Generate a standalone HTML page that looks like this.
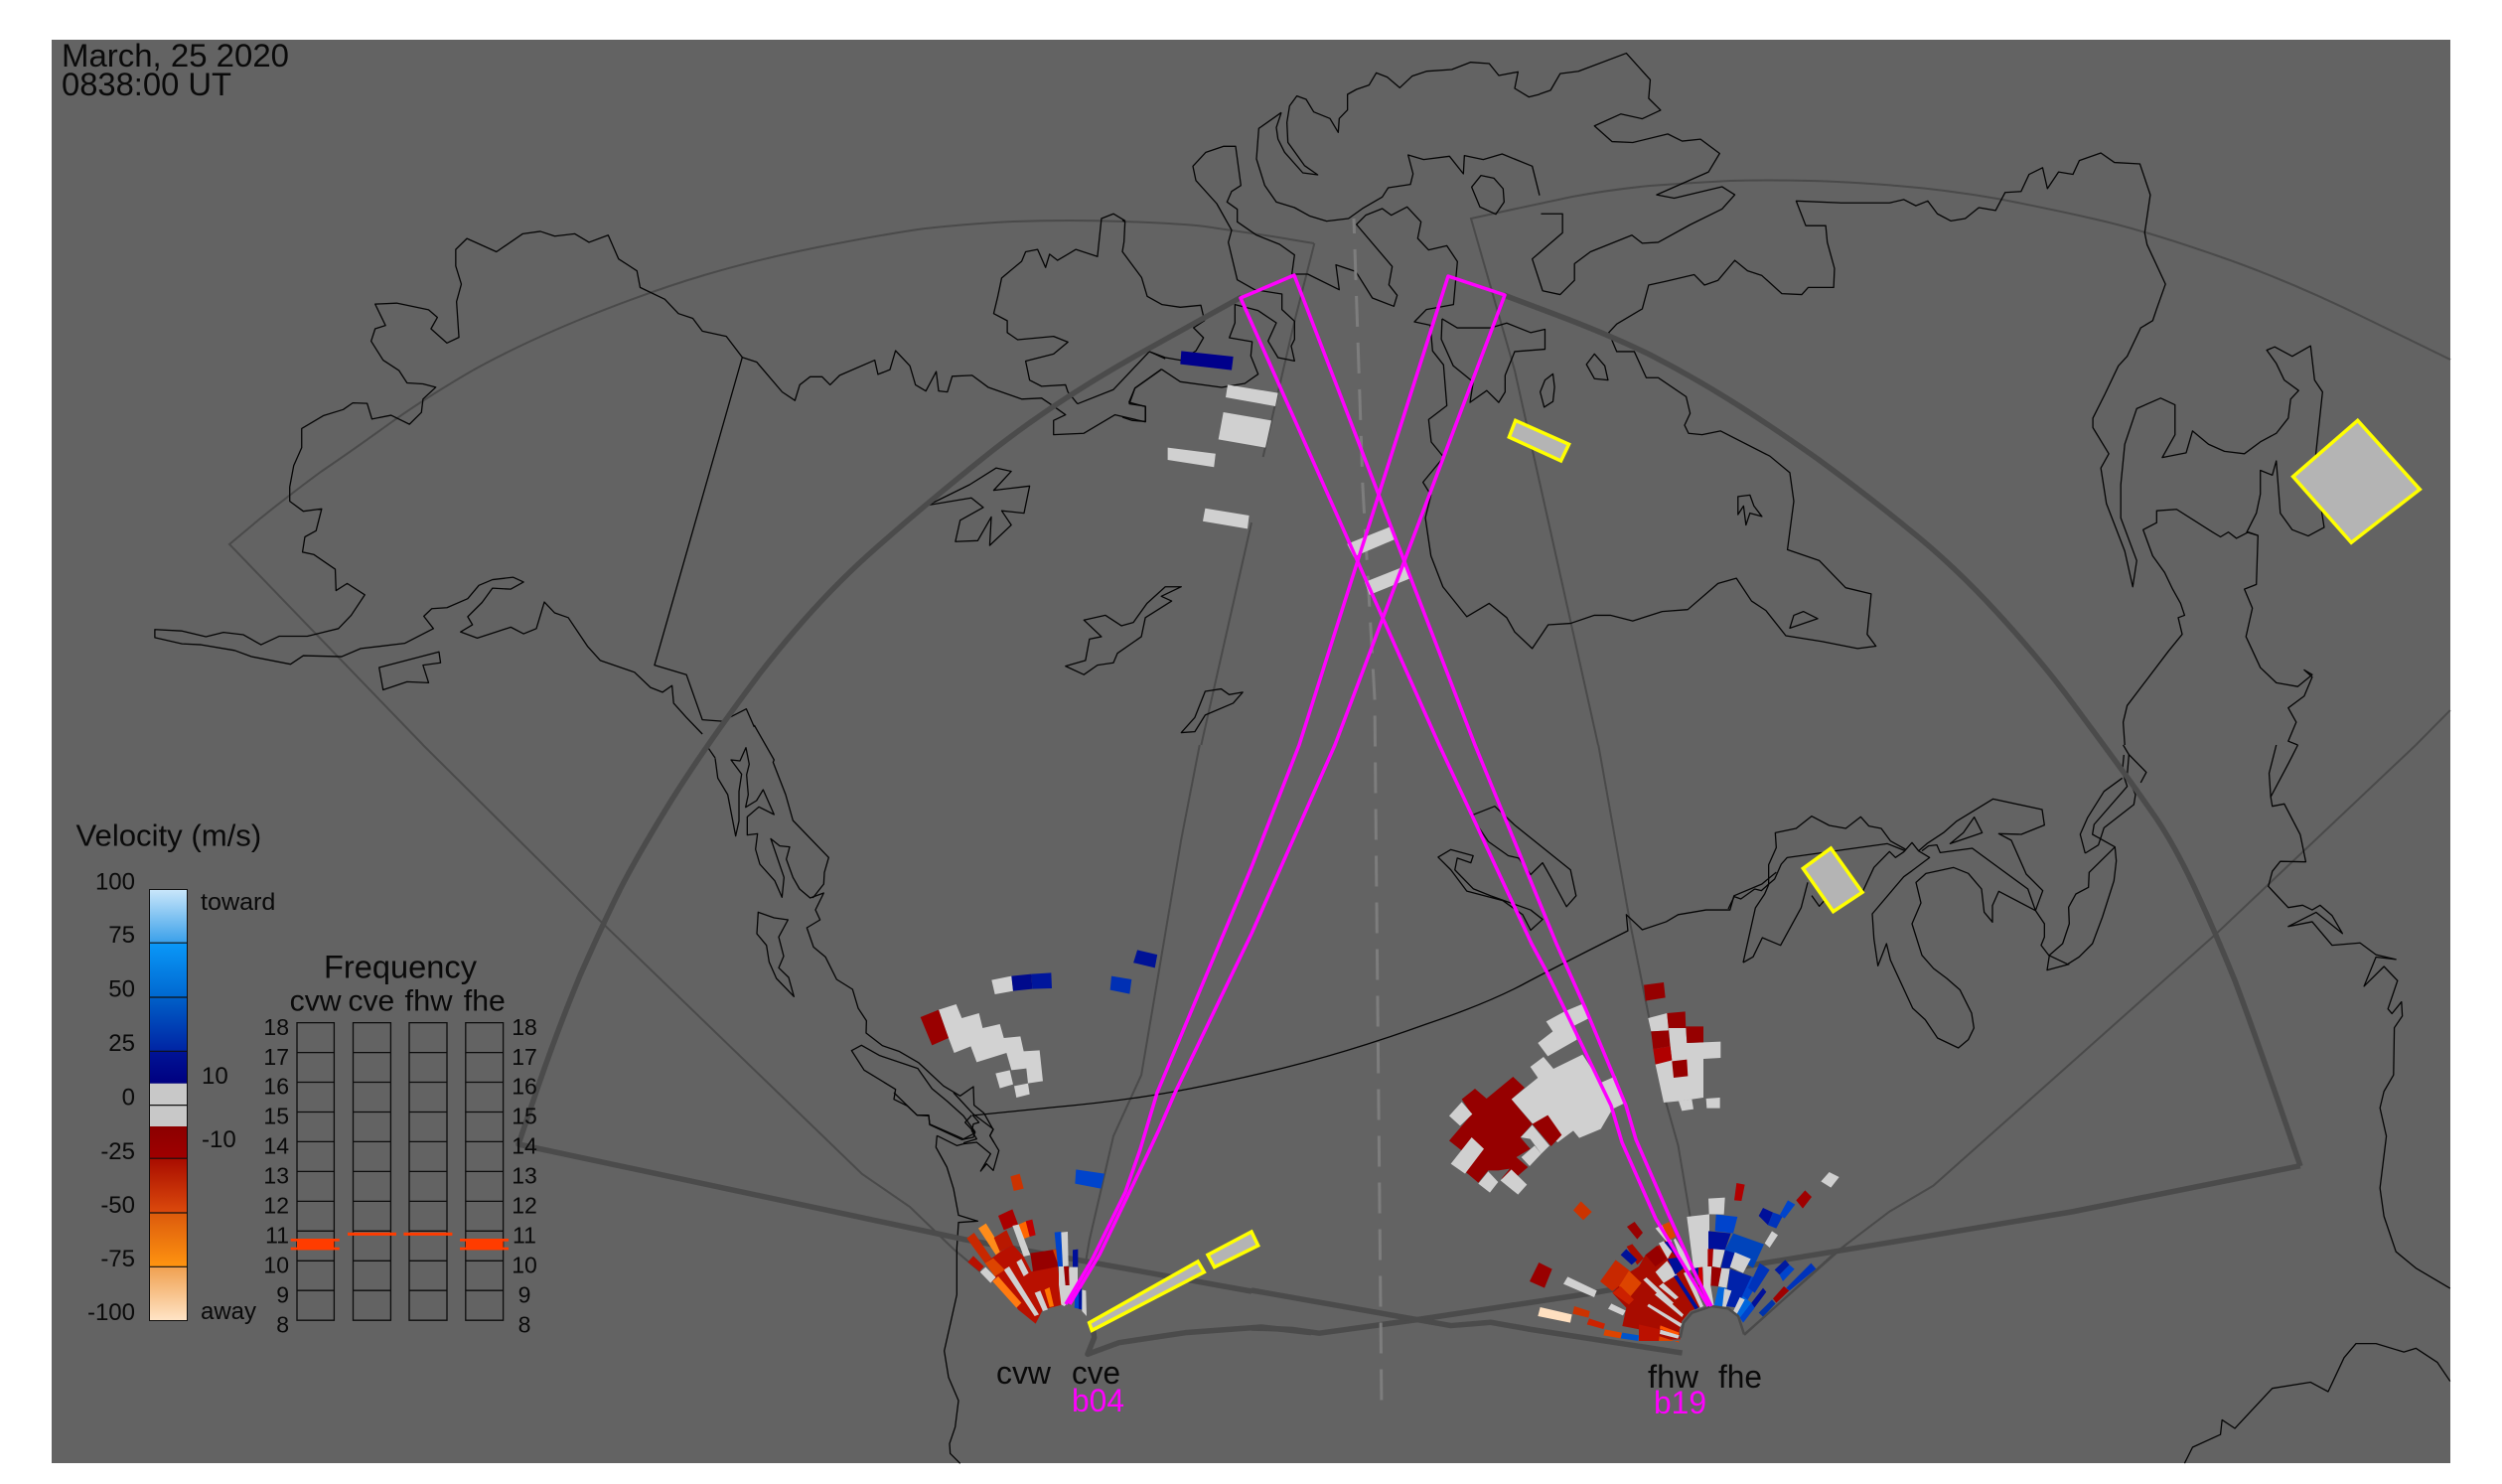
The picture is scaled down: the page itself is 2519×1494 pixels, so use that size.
<!DOCTYPE html>
<html><head><meta charset="utf-8"><style>
html,body{margin:0;padding:0;background:#fff}
svg{display:block}
svg *{vector-effect:non-scaling-stroke}
text{font-family:"Liberation Sans",sans-serif;fill:#0a0a0a}
.c polyline,.c path{fill:none;stroke:#050505;stroke-width:1.3;stroke-linejoin:round}
.c polygon{fill:none;stroke:#050505;stroke-width:1.3;stroke-linejoin:round}
.t polyline,.t path{fill:none;stroke:#4a4a4a;stroke-width:2}
.k polyline,.k path{fill:none;stroke:#4b4b4b;stroke-width:5.5;stroke-linejoin:round}
.y polygon{fill:#b4b4b4;stroke:#ff0;stroke-width:3.5}
.m polyline{fill:none;stroke:#f0f;stroke-width:3.5;stroke-linejoin:round}
</style></head><body>
<svg xmlns="http://www.w3.org/2000/svg" width="2519" height="1494" viewBox="0 0 2519 1494">
<defs>
<linearGradient id="a" x1="0" y1="0" x2="0" y2="1"><stop offset="0" stop-color="#c8e6fa"/><stop offset="1" stop-color="#3aa0ea"/></linearGradient>
<linearGradient id="b" x1="0" y1="0" x2="0" y2="1"><stop offset="0" stop-color="#0a98f8"/><stop offset="1" stop-color="#0068d0"/></linearGradient>
<linearGradient id="d" x1="0" y1="0" x2="0" y2="1"><stop offset="0" stop-color="#0060c8"/><stop offset="1" stop-color="#0024a4"/></linearGradient>
<linearGradient id="e" x1="0" y1="0" x2="0" y2="1"><stop offset="0" stop-color="#001496"/><stop offset="1" stop-color="#000080"/></linearGradient>
<linearGradient id="f" x1="0" y1="0" x2="0" y2="1"><stop offset="0" stop-color="#8b0000"/><stop offset="1" stop-color="#a00000"/></linearGradient>
<linearGradient id="g" x1="0" y1="0" x2="0" y2="1"><stop offset="0" stop-color="#a80c00"/><stop offset="1" stop-color="#dc4a0c"/></linearGradient>
<linearGradient id="h" x1="0" y1="0" x2="0" y2="1"><stop offset="0" stop-color="#dc5a0c"/><stop offset="1" stop-color="#ff9410"/></linearGradient>
<linearGradient id="i" x1="0" y1="0" x2="0" y2="1"><stop offset="0" stop-color="#f0a050"/><stop offset="1" stop-color="#ffe4c6"/></linearGradient>
</defs>
<rect width="2519" height="1494" fill="#fff"/>
<rect x="52" y="40" width="2415" height="1433" fill="#636363"/>

<!-- thin field-of-view lines -->
<g class="t">
<path d="M426 750 L231 548 L262 522 Q293 497 323 475 Q354 454 390 428 Q426 402 474 374 Q522 347 588 320 Q655 293 709 277 Q763 261 823 249 Q884 237 924 231 Q964 226 1020 223 Q1077 221 1132 223 Q1187 225 1213 228 Q1240 232 1281 238 L1323 245"/>
<g transform="scale(.80357,.47832)"><polyline points="1568,1100 1505,1568"/></g>
<g transform="translate(1130,40) scale(.33333)"><polyline points="580,615 520,850 425,1260"/></g>
<g transform="translate(0,750) scale(.80357,.47449)">
<polyline points="530,0 750,370 1080,910 1140,980 1195,1070 1230,1120"/>
<polyline points="1503,0 1480,200 1430,700 1395,830 1365,1050 1360,1100"/>
</g>
<path d="M1609 750 L1525 373 L1481 220 L1513 213 Q1545 206 1583 198 Q1621 191 1661 187 Q1702 184 1742 182 Q1782 181 1822 182 Q1862 183 1910 187 Q1959 191 2011 200 Q2063 210 2111 221 Q2159 232 2231 257 Q2304 282 2385 322 L2467 362"/>
<g transform="translate(1260,0) scale(.80293,.47832)"><polyline points="1503,1495 1460,1568"/></g>
<g transform="translate(1260,750) scale(.80293,.47449)">
<polyline points="435,0 475,380 520,760 535,850 550,1000"/>
<polyline points="1460,0 1210,400 855,935 800,990 730,1080 618,1252"/>
</g>
</g>

<!-- coastlines -->
<g class="c">
<g transform="scale(.80357,.47832)">
<polyline points="880,1545 860,1510 844,1480 842,1443 830,1457 815,1447 795,1415 752,1390 736,1360 712,1300 695,1290 682,1267 672,1323 656,1334 640,1320 598,1343 577,1330 592,1315 586,1298 604,1268 617,1238 640,1240 656,1225 643,1215 617,1220 600,1232 586,1260 560,1279 541,1281 531,1297 543,1323 507,1354 452,1365 428,1382 380,1380 364,1398 315,1382 294,1369 252,1357 228,1355 194,1342 194,1325 228,1328 258,1340 280,1331 305,1336 327,1357 350,1339 385,1339 424,1323 440,1295 457,1252 435,1228 421,1243 420,1198 393,1167 379,1162 382,1130 396,1117 403,1071 380,1076 363,1055 363,1025 368,980 378,942 378,902 405,875 430,862 442,848 460,849 466,882 490,874 513,893 528,868 530,840 546,815 530,808 510,806 500,780 480,758 465,718 470,692 483,685 470,640 497,638 537,652 548,668 540,692 560,722 575,710 572,635 578,598 571,560 571,525 585,502 622,530 655,492 677,487 695,497 720,492 738,510 762,495 775,545 798,570 802,605 833,630 850,660 868,670 880,697 910,708 930,752 948,762 980,825 996,843 1002,810 1015,793 1030,793 1040,810 1052,790 1096,758 1100,788 1115,778 1122,738 1140,770 1147,810 1160,823 1173,782 1176,823 1187,825 1193,792 1218,790 1238,815 1280,840 1305,838 1320,855 1335,873 1320,885 1320,915 1358,912 1397,873 1435,888 1435,855 1415,850 1422,817 1455,778"/>
<polyline points="930,752 820,1400 860,1420 880,1515 905,1518 935,1492 945,1530"/>
<polyline points="1350,850 1338,825 1335,810 1305,813 1290,800 1285,760 1320,745 1338,720 1320,708 1275,715 1262,700 1262,675 1245,660 1250,625 1255,585 1280,550 1285,530 1300,525 1310,563 1315,535 1325,548 1348,525 1375,540 1380,460 1395,450 1410,465"/>
<polyline points="1350,850 1395,820 1440,740 1460,755"/>
<polygon points="1163,1063 1215,1020 1248,985 1267,992 1245,1032 1290,1023 1283,1080 1255,1075 1267,1105 1240,1148 1242,1088 1225,1138 1197,1140 1203,1095 1232,1068 1217,1048"/>
<polygon points="1335,1402 1360,1390 1365,1345 1380,1340 1358,1305 1385,1295 1405,1317 1420,1310 1437,1270 1460,1235 1480,1235 1455,1255 1468,1265 1435,1300 1430,1340 1400,1375 1395,1395 1375,1400 1358,1420"/>
<polygon points="1510,1455 1530,1450 1540,1462 1557,1457 1545,1480 1510,1505 1497,1540 1480,1542 1497,1510"/>
<polygon points="475,1405 550,1372 552,1395 530,1400 537,1437 510,1435 480,1452"/>
</g>
<g transform="translate(1130,40) scale(.33333)">
<polyline points="118,995 175,1033 300,1050 370,1038 410,1010 388,955 392,912 323,900 340,855 340,800 410,818 465,855 440,910 470,960 520,970 510,925 520,905 520,850 482,815 482,768 400,755 347,725 320,612 330,575 285,495 222,425 213,382 252,340 305,322 342,322 358,440 330,458 316,490 347,512 347,550 405,590 475,618 520,650 512,708 560,708 655,755 645,680 705,700 755,780 820,805 830,772 805,740 815,685 707,558 735,530 785,510 812,530 860,505 902,550 892,600 925,635 980,622 1012,670 1000,800 918,815 882,852 930,862 937,940 970,982 980,1105 925,1147 933,1215 970,1260"/>
<polyline points="118,995 38,1052 20,1095 70,1108 70,1153 30,1150 0,1140"/>
<polyline points="82,942 130,960 175,968 222,940 245,900 215,870 248,848 237,802 175,808 120,800 75,775 58,718 0,640 5,610 8,550 0,545"/>
<polyline points="480,220 412,268 405,360 430,440 465,490 520,507 565,532 617,548 683,540 725,510 785,475 803,447 870,437 878,405 863,348 910,362 988,352 1030,405 1033,350 1090,362 1147,345 1238,382 1260,470"/>
<polyline points="480,220 465,265 470,300 490,340 545,402 590,408 550,380 500,310 497,250 505,200 527,170 555,180 578,218 627,238 652,280 655,238 680,212 680,165 707,150 745,137 767,100 800,113 838,145 875,110 920,95 995,90 1052,68 1108,72 1137,108 1195,97 1185,147 1228,173 1260,165"/>
<polygon points="1083,410 1055,445 1080,505 1128,527 1153,490 1150,450 1122,418"/>
</g>
<g transform="translate(720,730) scale(.33333)">
<polyline points="0,100 8,160 38,210 62,335 72,290 72,200 80,148 48,105 75,108 93,68 103,118 95,150 100,210 92,248 125,228 145,195 178,270 132,247 97,277 97,332 128,328 122,375 135,420 180,470 202,520 208,460 168,343 195,365 225,368 215,405 235,460 255,495 287,522 328,507 303,558 317,588 277,612 297,670 333,700 367,768 415,798 432,855 457,893 456,930 505,968 555,985 615,1020 690,1090 740,1120 780,1092 782,1148 812,1172 840,1222 830,1240 842,1260"/>
<polyline points="118,0 178,105 175,112 213,210 235,288 343,400 330,445 328,480 295,522"/>
<polygon points="130,565 178,582 220,588 192,640 207,698 192,733 222,762 238,820 185,765 163,715 155,665 126,630"/>
<polygon points="412,983 442,967 497,998 612,1037 655,1098 700,1135 750,1180 785,1228 780,1245 745,1252 648,1207 645,1178 610,1178 580,1150 540,1130 545,1100 450,1042"/>
<polyline points="778,1178 797,1200 780,1205 775,1225 790,1250 750,1262"/>
</g>
<polyline points="711,750 720,763"/>
<path d="M979 1123 L1058 1115 Q1137 1108 1198 1096 Q1260 1084 1316 1069 Q1372 1054 1436 1031 Q1501 1009 1539 988 Q1577 968 1639 937"/>
<g transform="translate(900,1100) scale(.33333)">
<polyline points="0,0 70,68 105,70 108,95 210,140 245,122 215,90 235,68"/>
<polyline points="180,0 240,65 300,110 290,130 317,175 300,235 280,215 262,237 292,185 250,150 210,155 190,160 130,130"/>
<polyline points="130,130 127,165 160,225 180,290 195,370 253,388 195,392 190,470 190,610 170,700 152,780 165,860 195,930 185,1010 168,1060 170,1090 200,1120"/>
</g>
<g transform="translate(1260,0) scale(.80293,.47832)">
<polyline points="363,450 390,450 390,490 352,545 365,612 387,620 405,590 405,555 425,530 477,495 490,512 510,510 550,473 590,440 606,410 590,393 530,417 508,410 573,362 587,323 563,293 540,297 522,282 478,300 452,298 430,265 463,240 490,250 513,232 498,207 500,168 470,112 410,150 387,155 375,190 361,198"/>
<polyline points="239,671 258,690 300,690 320,680 350,700 368,693 368,735 330,740 318,790 318,825 310,847 295,822 274,847 278,804 253,770 238,714 239,671"/>
<polyline points="241,962 215,1015 225,1042 218,1090 225,1170 240,1235 270,1298 298,1270 320,1300 330,1330 352,1365 372,1315 400,1312 430,1295 450,1295 478,1307 515,1287 547,1283 585,1228 608,1217 627,1265 645,1285 670,1338 715,1350 760,1365 783,1360 772,1335 777,1250 745,1237 712,1180 672,1157 680,1055 675,995 650,960 588,907 565,915 548,912 543,895 550,870 545,835 510,795 495,795 480,740 458,740 448,700 458,682 490,650 498,600 520,592 555,578 568,600 585,590 606,548 622,570 640,580 665,618 690,620 698,605 730,605 731,565 722,510 720,475 695,475 683,423 740,427 800,427 818,420 833,433 848,423 860,450 877,465 895,460 912,437 933,443 945,405 965,403 975,367 992,353 998,397 1012,362 1030,367 1038,338 1065,322 1082,342 1114,345 1127,410 1120,490 1123,515 1146,598 1135,650 1130,675 1115,690 1098,750 1087,770 1070,830 1055,880 1055,900 1075,955 1065,985 1072,1060 1095,1160 1105,1235 1110,1180 1090,1090 1090,1020 1095,935 1110,860 1140,838 1158,852 1158,915 1142,963 1172,953 1180,907 1200,935 1220,950 1245,955 1265,930 1285,912 1300,880 1303,840 1313,822 1295,800 1285,765 1273,737 1283,730 1305,750 1328,728 1333,800 1343,825 1333,980 1345,1110 1325,1128 1305,1115 1290,1080 1285,970 1280,1000 1265,990 1265,1040 1260,1080 1248,1120 1262,1127 1260,1230 1245,1240 1255,1280 1247,1340 1265,1405 1285,1437 1312,1445 1330,1420 1320,1410 1330,1425 1320,1465 1300,1490 1310,1520 1300,1560 1312,1568"/>
<polyline points="1262,1127 1250,1120 1235,1133 1225,1120 1215,1130 1205,1120 1160,1072 1135,1075 1135,1100 1118,1115 1130,1170 1145,1205 1155,1240 1165,1270 1170,1295 1162,1300 1167,1335 1150,1370 1098,1485 1093,1520 1095,1568"/>
<polygon points="420,767 430,745 443,770 447,800 430,797"/>
<polygon points="378,787 380,815 378,845 367,857 362,825 368,800"/>
<polygon points="610,1045 625,1042 630,1065 640,1087 625,1080 620,1105 617,1065 610,1083"/>
<polygon points="675,1322 680,1295 692,1287 710,1302"/>
</g>
<g transform="translate(1260,750) scale(.80293,.47449)">
<polyline points="1093,0 1100,20 1122,58 1115,80"/>
<polyline points="1312,0 1300,40 1278,110 1276,60 1285,0"/>
<polyline points="1278,110 1280,130 1295,125 1315,190 1322,248 1290,247 1280,268 1275,300 1300,345 1318,340 1330,350 1340,340 1355,362 1368,400 1335,355 1300,385 1330,375 1355,425 1390,420 1410,445 1435,455 1410,450 1395,512 1420,470 1437,500 1425,560 1430,570 1442,545 1443,575 1433,600 1432,700 1420,735 1415,770 1423,830 1415,940 1420,1000 1435,1075 1460,1110 1503,1153"/>
<polyline points="1170,1524 1180,1490 1215,1463 1217,1432 1233,1450 1280,1365 1328,1352 1350,1372 1370,1300 1385,1270 1410,1270 1445,1288 1460,1280 1487,1310 1503,1350"/>
<polygon points="275,150 305,130 330,170 400,265 407,320 395,343 375,280 365,250 350,275 335,240 322,235 297,205"/>
<polygon points="234,238 250,222 278,235 275,250 258,240 255,265 278,305 300,320 350,350 365,370 350,393 340,360 315,330 270,310 250,265"/>
<polyline points="472,395 470,360 490,392 520,375 535,360 570,350 600,350 605,320 640,295 658,270"/>
</g>
<g transform="translate(1740,760) scale(.33333)">
<polyline points="0,465 18,428 38,435 80,405 100,410 120,392 140,375 160,330 178,310 480,268 535,290"/>
<polyline points="45,627 75,610 103,552 158,575 220,462 240,385"/>
<polyline points="252,425 275,457 290,440"/>
<polyline points="405,415 440,340 487,292 505,310 530,293 555,265 575,290 608,310 555,350 530,368 435,480 440,555 452,637 478,570 490,620 557,765 595,800 632,855 695,885 725,860 742,825 735,780 700,710 660,675 620,645 585,605 555,510 582,447 567,385 597,358 680,340 725,358 765,405 773,475 798,505 798,455 817,412 928,470 950,410 900,360 855,258 817,238 885,240 955,212 948,165 800,133 690,200 650,235 600,268 575,290"/>
<polyline points="45,627 82,462 110,420 122,392 122,332 145,280 142,235 205,222 252,185 305,213 355,222 400,187 425,215 462,222 490,260 535,285"/>
<polygon points="670,268 710,235 743,188 767,235"/>
<polyline points="585,290 605,275 630,272 640,295 737,282 905,405 928,470 955,510 955,550 945,575 968,605 1025,632 1060,610 1100,570 1130,490 1165,380 1172,320 1168,278 1118,250 1100,240 1105,210 1205,95 1190,50 1195,0"/>
<polyline points="1168,278 1090,355 1088,400 1050,420 1028,460 1030,510 1010,570 970,605 963,650 1030,632"/>
<polyline points="1078,297 1118,272 1135,220 1225,150 1230,120 1205,60 1210,0"/>
<polyline points="1078,297 1063,240 1085,190 1135,110 1190,70"/>
</g>
</g>

<!-- thick lines -->
<g class="k">
<path d="M1260 1300 L972 1248 L522 1152 L542 1093 Q562 1035 584 982 Q607 930 625 894 Q643 859 677 804 Q711 750 765 678 Q820 607 876 557 Q932 507 1000 453 Q1069 399 1160 349 L1250 299"/>
<path d="M1514 297 L1567 317 Q1620 337 1661 357 Q1702 378 1742 403 Q1782 428 1830 462 Q1878 497 1922 533 Q1967 569 2011 617 Q2055 665 2086 707 Q2118 750 2134 772 Q2151 795 2171 824 Q2191 854 2211 897 Q2231 940 2250 987 Q2268 1035 2292 1104 L2316 1174"/>
<g transform="translate(1260,750) scale(.80293,.47449)">
<polyline points="1315,893 1030,990 820,1050 640,1100 420,1165 205,1220 85,1248 50,1240 0,1237"/>
<polyline points="0,1157 200,1217 250,1232 300,1225 350,1240 540,1290"/>
</g>
<g transform="translate(900,1100) scale(.33333)"><polyline points="600,700 605,740 585,790 680,755 880,725 1110,708 1260,725"/></g>
</g>

<!-- centre dashed -->
<polyline points="1363,220 1372,490 1384,703 1391,1420" fill="none" stroke="#7d7d7d" stroke-width="3" stroke-dasharray="15 16 31 16 31 16 31 16 31 16 31 16 31 16 31 16 31 16 31 16 31 16 31 16 31 16 31 16 31 16 31 16 31 16 31 16 31 16 31 16 31 16 31 16 31 16 31 16 31 16 31 16 31 16"/>

<!-- velocity cells: top -->
<g transform="translate(1130,40) scale(.33333)" fill="#d0d0d0">
<polygon fill="#00008b" points="178,940 335,957 330,998 175,980"/>
<polygon points="318,1042 470,1067 462,1107 312,1080"/>
<polygon points="305,1125 450,1150 432,1232 290,1207"/>
</g>
<g transform="scale(.80357,.47832)" fill="#d0d0d0">
<polygon points="1463,942 1523,955 1521,983 1463,968"/>
<polygon points="1510,1070 1565,1085 1563,1113 1507,1097"/>
</g>
<g transform="translate(1260,0) scale(.80293,.47832)" fill="#d0d0d0">
<polygon points="120,1145 175,1108 180,1135 128,1172"/>
<polygon points="142,1225 192,1192 198,1218 148,1252"/>
</g>

<!-- cells: mid-left -->
<g transform="translate(720,730) scale(.33333)" fill="#d2d2d2">
<polygon points="675,860 728,843 745,885 797,870 808,915 860,903 872,945 922,940 932,985 980,982 990,1075 945,1082 940,1037 895,1042 880,990 790,1018 772,970 722,990 705,945"/>
<polygon fill="#990000" points="620,882 675,860 705,945 655,967"/>
<polygon points="847,1052 890,1042 900,1085 860,1097"/>
<polygon points="903,1090 945,1082 950,1115 910,1125"/>
<polygon points="835,770 895,758 900,803 845,813"/>
<polygon fill="#000a8c" points="895,758 955,752 958,797 900,803"/>
<polygon fill="#00169c" points="955,752 1015,748 1017,795 958,797"/>
<polygon fill="#0030b4" points="1197,758 1258,768 1252,812 1193,800"/>
</g>
<g transform="translate(0,750) scale(.80357,.47449)"><polygon fill="#001296" points="1425,435 1450,445 1447,473 1420,462"/></g>

<g transform="translate(900,1100) scale(.33333)">
<polygon fill="#cc3300" points="352,253 380,245 392,290 362,297"/>
<polygon fill="#0044cc" points="550,232 636,245 625,290 547,275"/>
</g>

<!-- cvw/cve fan -->
<g transform="translate(960,1210) scale(.33333)" fill="#d0d0d0">
<polygon fill="#c82800" points="40,110 62,93 115,170 95,185"/>
<polygon fill="#ff8c1a" points="75,80 98,65 148,145 128,160"/>
<polygon fill="#b81000" points="43,182 60,163 92,195 78,210"/>
<polygon points="80,212 97,197 128,228 112,245"/>
<polygon fill="#b81000" points="95,185 145,148 180,130 212,165 235,210 315,195 330,310 300,318 270,325 248,368 195,325 135,225 112,245 128,228"/>
<polygon fill="#ff7a10" points="118,240 135,225 205,305 190,320"/>
<polygon fill="#aa0000" points="135,42 178,22 195,68 152,85"/>
<polygon fill="#b81800" points="122,108 160,85 180,130 140,150"/>
<polygon fill="#ff6600" points="197,68 220,58 230,105 210,112"/>
<polygon fill="#c00000" points="218,58 238,53 248,100 230,105"/>
<polygon points="178,72 197,68 232,160 212,165"/>
<polygon fill="#960000" points="232,155 312,143 318,195 240,210"/>
<polygon fill="#d04000" points="300,145 315,143 330,195 318,195"/>
<polygon points="152,205 168,195 258,340 245,345"/>
<polygon points="190,182 205,172 227,215 212,225"/>
<polygon points="245,275 262,268 285,325 270,330"/>
<polygon fill="#ff7700" points="275,265 290,258 303,315 290,318"/>
<polygon fill="#dd4400" points="95,185 120,170 155,205 125,225"/>
<polygon fill="#0044cc" points="305,92 325,90 330,195 315,195"/>
<polygon points="325,92 345,90 347,193 330,195"/>
<polygon fill="#000f99" points="360,145 376,143 376,197 360,197"/>
<polygon points="350,197 375,197 375,258 345,305 335,315 325,310 318,250 318,195 335,195 338,252"/>
<polygon fill="#990000" points="333,195 348,195 350,252 338,252"/>
<polygon fill="#0044cc" points="368,265 388,262 388,325 365,320"/>
<polygon fill="#000f99" points="378,265 388,263 386,325 378,323"/>
<polygon points="388,265 400,268 402,345 388,330"/>
</g>

<!-- fh big cells -->
<g transform="translate(1420,950) scale(.33333)" fill="#d0d0d0">
<polygon points="410,235 465,205 525,180 540,225 490,250 503,290 415,340 385,300 430,265"/>
<polygon points="305,470 385,405 362,372 402,342 432,378 520,335 575,420 620,400 650,480 610,500 575,560 510,587 492,565 445,600 370,545"/>
<polygon fill="#960000" points="117,595 160,545 185,515 155,470 195,438 230,468 310,402 345,435 305,470 368,545 332,585 362,620 320,645 355,675 320,705 275,710 300,680 265,685 235,685 205,722 165,688 195,650 155,625"/>
<polygon points="117,520 155,478 187,515 150,550"/>
<polygon points="122,665 185,585 222,620 165,695"/>
<polygon points="205,725 235,688 265,720 240,752"/>
<polygon points="272,715 305,682 352,728 325,758"/>
<polygon points="333,585 368,548 420,610 395,635 362,590"/>
<polygon points="335,645 375,610 395,635 360,672"/>
<polygon fill="#960000" points="368,545 415,518 457,578 425,612"/>
<polygon fill="#960000" points="705,125 765,117 770,163 710,173"/>
<polygon points="718,225 775,210 780,262 727,265"/>
<polygon fill="#960000" points="775,210 830,205 832,255 780,262"/>
<polygon fill="#960000" points="727,265 780,262 785,310 733,318"/>
<polygon points="780,255 832,255 835,300 885,298 937,296 937,345 885,348 885,465 815,475 765,480 740,365 790,352 785,310"/>
<polygon fill="#b00000" points="733,318 785,310 790,352 740,365"/>
<polygon fill="#960000" points="832,250 885,250 885,298 835,300"/>
<polygon fill="#960000" points="790,355 835,350 838,400 795,405"/>
<polygon points="810,475 850,470 855,500 820,505"/>
<polygon points="893,468 935,465 935,497 895,497"/>
<polygon fill="#990000" points="388,963 428,983 405,1040 360,1020"/>
<polygon fill="#cc3300" points="515,778 548,810 522,835 492,805"/>
<polygon fill="#990000" points="677,840 702,873 685,893 654,855"/>
<polygon fill="#ffe0c0" points="392,1098 488,1120 483,1145 385,1125"/>
</g>

<!-- fhw/fhe fan -->
<g transform="translate(1560,1180) scale(.33333)" fill="#d0d0d0">
<polygon fill="#a80c00" points="395,505 270,510 272,475 220,465 232,410 190,365 245,300 270,285 290,250 360,200 460,405 425,420 400,450 392,480"/>
<polygon fill="#960000" points="290,250 325,222 355,260 320,285"/>
<polygon fill="#a80c00" points="233,225 250,217 285,260 265,280"/>
<polygon fill="#001299" points="215,250 232,232 265,265 248,280"/>
<polygon fill="#c82800" points="153,330 200,265 245,300 215,340 190,360"/>
<polygon fill="#dd4400" points="210,345 240,298 278,335 245,375"/>
<polygon fill="#cc2000" points="190,365 215,345 255,385 240,400"/>
<polygon points="283,325 293,318 375,395 365,405"/>
<polygon points="295,405 300,398 400,458 395,468"/>
<polygon fill="#ff5500" points="335,463 392,485 390,495 333,473"/>
<polygon points="333,475 392,493 388,503 330,488"/>
<polygon fill="#dd4400" points="330,495 392,515 390,510 330,510"/>
<polygon points="330,345 343,335 390,378 380,385"/>
<polygon points="318,370 330,360 405,430 400,438"/>
<polygon points="320,302 355,268 385,310 345,335"/>
<polygon points="330,215 345,208 370,240 357,262"/>
<polygon points="320,170 340,160 370,210 355,212"/>
<polygon fill="#dd4400" points="340,160 362,150 382,195 362,205"/>
<polygon fill="#00109a" points="347,212 360,208 405,290 385,258"/>
<polygon fill="#00109a" points="357,262 385,258 405,290 380,310"/>
<polygon fill="#00109a" points="375,315 385,310 450,410 440,415"/>
<polygon points="375,205 380,200 435,290 420,300 395,260"/>
<polygon points="405,305 420,300 465,405 455,410"/>
<polygon points="415,135 483,127 483,235 478,285 435,290"/>
<polygon points="480,80 530,77 527,128 482,127"/>
<polygon fill="#0044cc" points="503,128 568,135 555,185 500,178"/>
<polygon fill="#00109a" points="480,178 548,185 530,235 480,232"/>
<polygon fill="#0044bb" points="555,185 648,218 615,290 530,235"/>
<polygon fill="#aa0000" points="478,232 495,232 492,285 478,285"/>
<polygon points="495,232 530,235 515,290 492,285"/>
<polygon fill="#0019a0" points="530,235 560,245 545,290 518,290"/>
<polygon points="560,242 608,262 585,305 545,287"/>
<polygon fill="#00109a" points="433,292 450,288 448,335"/>
<polygon fill="#cc0000" points="450,288 462,287 465,350 450,345"/>
<polygon points="463,285 490,285 487,345 497,405 480,405 465,345"/>
<polygon fill="#990000" points="490,285 520,290 510,345 487,343"/>
<polygon points="520,290 545,292 535,350 510,345"/>
<polygon fill="#0022aa" points="545,292 610,315 575,410 530,405"/>
<polygon fill="#0066dd" points="510,347 535,350 522,405 497,405"/>
<polygon points="528,352 550,358 532,410 522,408"/>
<polygon fill="#0044cc" points="610,315 635,325 590,400 572,395"/>
<polygon fill="#0033bb" points="635,275 665,295 620,365 600,350"/>
<polygon fill="#0066dd" points="585,375 610,395 580,440 560,425"/>
<polygon points="575,378 590,385 565,430 553,425"/>
<polygon fill="#00109a" points="610,395 645,350 655,362 615,415"/>
<polygon fill="#0044cc" points="575,440 610,395 620,410 585,455"/>
<polygon fill="#00109a" points="632,132 645,108 675,122 660,160"/>
<polygon fill="#0033bb" points="660,160 675,122 705,132 685,170"/>
<polygon fill="#0044cc" points="695,130 720,85 742,98 710,140"/>
<polygon points="650,215 672,178 690,190 665,228"/>
<polygon fill="#a00000" points="745,85 772,55 792,75 765,110"/>
<polygon points="820,28 845,0 875,15 850,47"/>
<polygon fill="#b00000" points="558,85 565,33 590,38 580,87"/>
<polygon fill="#001aa0" points="680,295 712,265 725,280 695,310"/>
<polygon fill="#0044cc" points="695,310 725,280 740,293 705,330"/>
<polygon fill="#0033aa" points="632,425 672,385 683,397 645,437"/>
<polygon fill="#a00000" points="675,382 708,345 724,358 685,395"/>
<polygon fill="#0033bb" points="715,350 790,275 805,292 725,358"/>
<polygon points="42,338 55,316 143,358 135,378"/>
<polygon points="177,413 187,397 230,418 222,433"/>
<polygon fill="#cc3300" points="70,428 75,405 122,420 118,440"/>
<polygon fill="#cc2200" points="113,460 120,442 168,458 163,474"/>
<polygon fill="#dd4400" points="163,493 168,475 218,485 215,502"/>
<polygon fill="#0055cc" points="215,502 220,485 270,493 268,510"/>
<polygon fill="#bb1100" points="270,460 335,475 330,510 270,510"/>
<polyline fill="none" stroke="#4b4b4b" stroke-width="2.5" points="395,500 405,455 430,425 490,405 540,412 570,435 588,490"/>
<polyline fill="none" stroke="#4a4a4a" stroke-width="2" points="588,490 900,215"/>
</g>

<!-- magenta beams -->
<g class="m">
<polyline points="1073,1313 1100,1267 1133,1200 1148,1157 1165,1100 1260,873 1308,750 1458,278 1515,297 1344,750 1260,940 1183,1100 1167,1137 1153,1167 1107,1263 1077,1313"/>
<polyline points="1720,1315 1703,1287 1667,1227 1633,1150 1622,1113 1557,978 1542,950 1449,750 1249,300 1303,277 1485,750 1567,950 1597,1017 1637,1113 1647,1147 1680,1223 1707,1283 1723,1315"/>
</g>

<!-- yellow boxes -->
<g class="y">
<g transform="translate(1260,0) scale(.80293,.47832)">
<polygon points="1387,885 1465,1030 1379,1142 1306,1003"/>
<polygon points="331,885 398,935 388,970 323,920"/>
</g>
<g transform="translate(1740,760) scale(.33333)"><polygon points="310,282 405,415 317,473 226,343"/></g>
<g transform="translate(900,1100) scale(.33333)">
<polygon points="590,695 918,510 937,542 598,718"/>
<polygon points="948,490 1080,420 1100,462 968,527"/>
</g>
</g>

<!-- colorbar -->
<g>
<rect x="151" y="896" width="37" height="53.200" fill="url(#a)"/>
<rect x="151" y="949.200" width="37" height="54.800" fill="url(#b)"/>
<rect x="151" y="1004" width="37" height="54.300" fill="url(#d)"/>
<rect x="151" y="1058.300" width="37" height="32.500" fill="url(#e)"/>
<rect x="151" y="1090.800" width="37" height="43.200" fill="#c8c8c8"/>
<rect x="151" y="1134" width="37" height="32.200" fill="url(#f)"/>
<rect x="151" y="1166.200" width="37" height="54.800" fill="url(#g)"/>
<rect x="151" y="1221" width="37" height="54.300" fill="url(#h)"/>
<rect x="151" y="1275.300" width="37" height="54" fill="url(#i)"/>
<rect x="150.500" y="895.500" width="38" height="434" fill="none" stroke="#111" stroke-width="1"/>
<path d="M151 949.200H188M151 1004H188M151 1058.300H188M151 1112.600H188M151 1166.200H188M151 1221H188M151 1275.300H188" stroke="#111" stroke-width="1.200"/>
</g>

<!-- frequency bars -->
<g fill="none" stroke="#0d0d0d" stroke-width="1.300">
<path d="M299 1029.600H336.400V1329.200H299Z M355.500 1029.600H393.400V1329.200H355.500Z M412 1029.600H450V1329.200H412Z M468.800 1029.600H506.600V1329.200H468.800Z"/>
<path d="M299 1059.600H336.400M355.500 1059.600H393.400M412 1059.600H450M468.800 1059.600H506.600M299 1089.500H336.400M355.500 1089.500H393.400M412 1089.500H450M468.800 1089.500H506.600M299 1119.500H336.400M355.500 1119.500H393.400M412 1119.500H450M468.800 1119.500H506.600M299 1149.400H336.400M355.500 1149.400H393.400M412 1149.400H450M468.800 1149.400H506.600M299 1179.400H336.400M355.500 1179.400H393.400M412 1179.400H450M468.800 1179.400H506.600M299 1209.400H336.400M355.500 1209.400H393.400M412 1209.400H450M468.800 1209.400H506.600M299 1239.300H336.400M355.500 1239.300H393.400M412 1239.300H450M468.800 1239.300H506.600M299 1269.300H336.400M355.500 1269.300H393.400M412 1269.300H450M468.800 1269.300H506.600M299 1299.200H336.400M355.500 1299.200H393.400M412 1299.200H450M468.800 1299.200H506.600"/>
</g>
<g fill="#ff3c00">
<rect x="299" y="1247" width="37.400" height="11.400"/>
<rect x="292.700" y="1247" width="49" height="2.700"/><rect x="292.700" y="1255.700" width="49" height="2.700"/>
<rect x="350" y="1240.800" width="49" height="3.100"/>
<rect x="406.400" y="1240.800" width="49" height="3.100"/>
<rect x="468.800" y="1247" width="37.800" height="11.400"/>
<rect x="463" y="1247" width="49" height="2.700"/><rect x="463" y="1255.700" width="49" height="2.700"/>
</g>

<!-- text -->
<text x="62" y="67" font-size="32" textLength="229" lengthAdjust="spacingAndGlyphs">March, 25 2020</text>
<text x="62" y="96" font-size="32" textLength="171" lengthAdjust="spacingAndGlyphs">0838:00 UT</text>
<text x="76.500" y="851.700" font-size="31" textLength="186.700" lengthAdjust="spacingAndGlyphs">Velocity (m/s)</text>
<g font-size="24" text-anchor="end">
<text x="136" y="895.700">100</text><text x="136" y="949">75</text><text x="136" y="1003.600">50</text><text x="136" y="1058">25</text><text x="136" y="1112.600">0</text><text x="136" y="1167">-25</text><text x="136" y="1221">-50</text><text x="136" y="1275">-75</text><text x="136" y="1329">-100</text>
</g>
<g font-size="24">
<text x="202" y="916" textLength="75.400" lengthAdjust="spacingAndGlyphs">toward</text>
<text x="202" y="1328">away</text>
<text x="203" y="1090.800">10</text>
<text x="203" y="1155">-10</text>
</g>
<text x="326" y="984.400" font-size="32" textLength="154" lengthAdjust="spacingAndGlyphs">Frequency</text>
<g font-size="30">
<text x="291.600" y="1017.400" textLength="52" lengthAdjust="spacingAndGlyphs">cvw</text>
<text x="350.500" y="1017.400" textLength="46.700" lengthAdjust="spacingAndGlyphs">cve</text>
<text x="407.500" y="1017.400" textLength="48" lengthAdjust="spacingAndGlyphs">fhw</text>
<text x="466.800" y="1017.400" textLength="42" lengthAdjust="spacingAndGlyphs">fhe</text>
</g>
<g font-size="23" text-anchor="end">
<text x="291" y="1041.800">18</text><text x="291" y="1071.800">17</text><text x="291" y="1101.700">16</text><text x="291" y="1131.700">15</text><text x="291" y="1161.600">14</text><text x="291" y="1191.600">13</text><text x="291" y="1221.600">12</text><text x="291" y="1251.500">11</text><text x="291" y="1281.500">10</text><text x="291" y="1311.400">9</text><text x="291" y="1341.400">8</text>
</g>
<g font-size="23" text-anchor="middle">
<text x="528" y="1041.800">18</text><text x="528" y="1071.800">17</text><text x="528" y="1101.700">16</text><text x="528" y="1131.700">15</text><text x="528" y="1161.600">14</text><text x="528" y="1191.600">13</text><text x="528" y="1221.600">12</text><text x="528" y="1251.500">11</text><text x="528" y="1281.500">10</text><text x="528" y="1311.400">9</text><text x="528" y="1341.400">8</text>
</g>
<g font-size="32">
<text x="1003" y="1393" textLength="55" lengthAdjust="spacingAndGlyphs">cvw</text>
<text x="1079" y="1393" textLength="49" lengthAdjust="spacingAndGlyphs">cve</text>
<text x="1659" y="1397" textLength="51" lengthAdjust="spacingAndGlyphs">fhw</text>
<text x="1730" y="1397" textLength="44" lengthAdjust="spacingAndGlyphs">fhe</text>
<text x="1079" y="1421" textLength="53" lengthAdjust="spacingAndGlyphs" style="fill:#f0f">b04</text>
<text x="1665" y="1423" textLength="53" lengthAdjust="spacingAndGlyphs" style="fill:#f0f">b19</text>
</g>
</svg>
</body></html>
